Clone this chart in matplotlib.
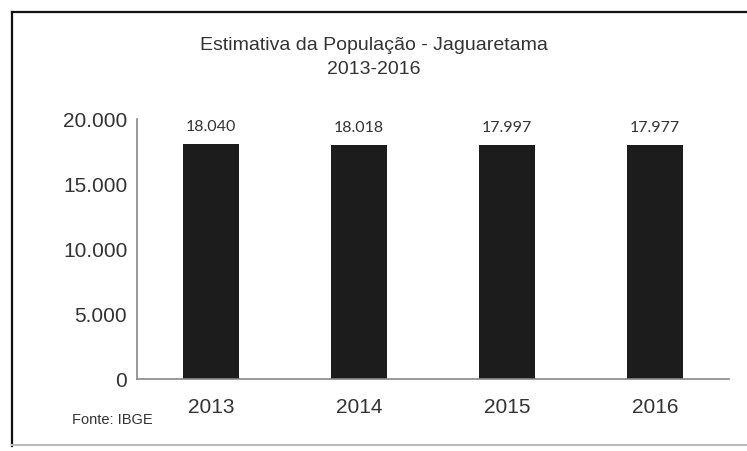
import matplotlib.pyplot as plt
from matplotlib.lines import Line2D

# -------------------- Data --------------------
anos = ['2013', '2014', '2015', '2016']
populacao = [18040, 18018, 17997, 17977]
rotulos = ['18.040', '18.018', '17.997', '17.977']
yticks = [0, 5000, 10000, 15000, 20000]
ytick_labels = ['0', '5.000', '10.000', '15.000', '20.000']

TEXT = '#333333'
plt.rcParams['font.family'] = ['Liberation Sans', 'DejaVu Sans']

fig = plt.figure(figsize=(7.47, 4.52), dpi=100)
fig.patch.set_facecolor('white')

# outer frame (left/top dark, bottom light)
fig.add_artist(Line2D([12/747, 12/747], [5/452, 439/452], transform=fig.transFigure, color='#111111', lw=1.6))
fig.add_artist(Line2D([12/747, 1.0], [439/452, 439/452], transform=fig.transFigure, color='#111111', lw=1.6))
fig.add_artist(Line2D([12/747, 1.0], [6/452, 6/452], transform=fig.transFigure, color='#bbbbbb', lw=1.5))

ax = fig.add_axes([137/747, 72/452, 592/747, 260/452])
x = range(len(anos))
ax.bar(x, populacao, width=0.385, color='#1c1c1c')
ax.set_xlim(-0.5, len(anos) - 0.5)
ax.set_ylim(0, 20000)

for xi, v, lab in zip(x, populacao, rotulos):
    ax.annotate(lab, (xi, v), xytext=(0, 8), textcoords='offset points',
                ha='center', va='bottom', fontsize=11.5, color=TEXT, family=['Lato', 'DejaVu Sans'])

ax.set_yticks(yticks)
ax.set_yticklabels(ytick_labels)
ax.set_xticks(list(x))
ax.set_xticklabels(anos)
ax.tick_params(axis='y', length=0, pad=7, labelsize=15, labelcolor=TEXT)
ax.tick_params(axis='x', length=0, pad=13, labelsize=15, labelcolor=TEXT)

for s in ['top', 'right']:
    ax.spines[s].set_visible(False)
ax.spines['left'].set_color('#888888')
ax.spines['bottom'].set_color('#888888')
ax.spines['left'].set_linewidth(1.2)
ax.spines['bottom'].set_linewidth(1.2)

fig.text(374/747, 407/452, 'Estimativa da População - Jaguaretama', ha='center', va='center',
         fontsize=14, color=TEXT)
fig.text(374/747, 382/452, '2013-2016', ha='center', va='center', fontsize=14, color=TEXT)
fig.text(72/747, 32/452, 'Fonte: IBGE', ha='left', va='center', fontsize=10.5, color=TEXT)

fig.savefig('out.png', dpi=100, facecolor='white')
